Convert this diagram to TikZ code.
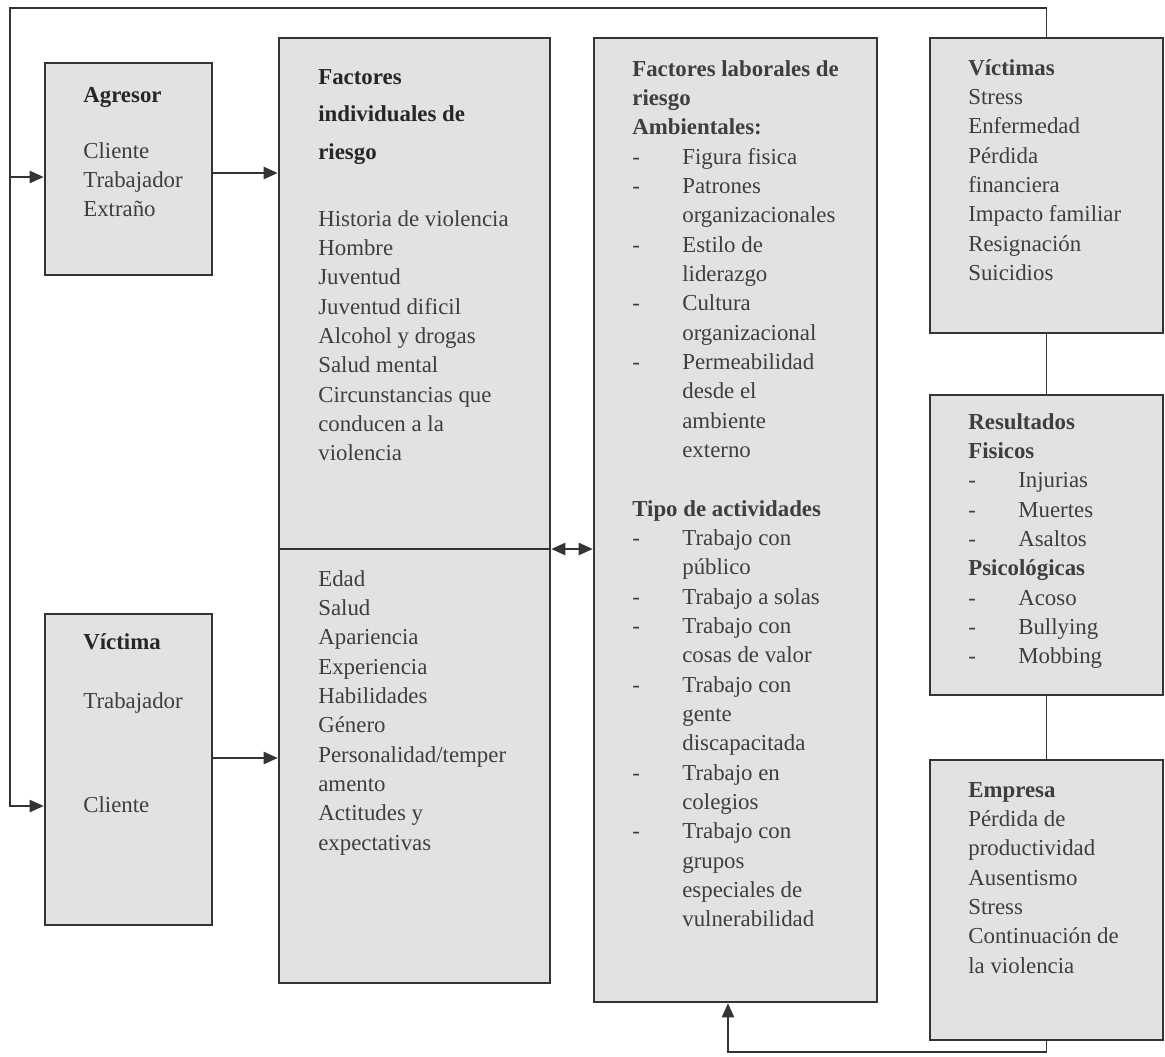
\documentclass[tikz,border=0pt]{standalone}
\usepackage{fontspec}
\setmainfont{Liberation Serif}
\usetikzlibrary{fit,arrows.meta}

\definecolor{relleno}{RGB}{226,226,228}
\definecolor{borde}{RGB}{52,52,52}
\definecolor{letra}{RGB}{62,62,62}

\newcommand{\guion}{\makebox[1cm][l]{-}}
\newcommand{\sangria}{\makebox[1cm]{}}
% lista cuya linea base es la de su primera fila
\newcommand{\lista}[1]{\begin{tabular}[t]{@{}l@{}}#1\end{tabular}}

\begin{document}
\begin{tikzpicture}[x=0.02cm,y=-0.02cm,
  caja/.style={draw=borde,fill=relleno,line width=1.5pt,inner sep=0pt},
  texto/.style={anchor=base west,inner sep=0pt,text=letra,
    font=\fontsize{13}{16.7}\selectfont},
  titulo/.style={texto,text=black!85,font=\fontsize{13}{16.7}\selectfont\bfseries},
  linea/.style={draw=borde,line width=1pt},
  flecha/.style={linea,-{Triangle[length=8pt,width=7pt]}},
  doble/.style={linea,{Triangle[length=8pt,width=7pt]}-{Triangle[length=8pt,width=7pt]}}]
\useasboundingbox (0,0) rectangle (1165,1056);

% cajas
\node[caja,fit={(45,63) (212,275)}] (agresor) {};
\node[caja,fit={(45,614) (212,925)}] (victima) {};
\node[caja,fit={(279,38) (550,983)}] (individuales) {};
\node[caja,fit={(594,38) (877,1002)}] (laborales) {};
\node[caja,fit={(930,38) (1163,333)}] (victimas) {};
\node[caja,fit={(930,395) (1163,695)}] (resultados) {};
\node[caja,fit={(930,760) (1163,1040)}] (empresa) {};
\draw[caja] (individuales.west |- 0,549) -- (individuales.east |- 0,549);

% textos
\node[titulo] (t-agresor) at (83,102) {Agresor};
\node[texto] (l-agresor) at (83,158) {\lista{Cliente\\Trabajador\\Extraño}};

\node[titulo,font=\fontsize{13}{21.6}\selectfont\bfseries] (t-indiv) at (318,84)
  {\lista{Factores\\individuales de\\riesgo}};
\node[texto] (l-indiv) at (318,226) {\lista{Historia de violencia\\Hombre\\Juventud\\
  Juventud dificil\\Alcohol y drogas\\Salud mental\\Circunstancias que\\
  conducen a la\\violencia}};
\node[texto] (l-indiv2) at (318,586) {\lista{Edad\\Salud\\Apariencia\\Experiencia\\
  Habilidades\\Género\\Personalidad/temper\\amento\\Actitudes y\\expectativas}};

\node[titulo] (t-victima) at (83,649) {Víctima};
\node[texto] (l-trab) at (83,708) {Trabajador};
\node[texto] (l-cliente) at (83,812) {Cliente};

\node[texto] (l-lab) at (632,76) {\lista{\textbf{Factores laborales de}\\\textbf{riesgo}\\
  \textbf{Ambientales:}\\
  \guion Figura fisica\\\guion Patrones\\\sangria organizacionales\\
  \guion Estilo de\\\sangria liderazgo\\\guion Cultura\\\sangria organizacional\\
  \guion Permeabilidad\\\sangria desde el\\\sangria ambiente\\\sangria externo\\[0.588cm]
  \textbf{Tipo de actividades}\\
  \guion Trabajo con\\\sangria público\\\guion Trabajo a solas\\
  \guion Trabajo con\\\sangria cosas de valor\\\guion Trabajo con\\\sangria gente\\
  \sangria discapacitada\\\guion Trabajo en\\\sangria colegios\\
  \guion Trabajo con\\\sangria grupos\\\sangria especiales de\\\sangria vulnerabilidad}};

\node[texto] (l-victimas) at (968,75) {\lista{\textbf{Víctimas}\\Stress\\Enfermedad\\Pérdida\\
  financiera\\Impacto familiar\\Resignación\\Suicidios}};

\node[texto] (l-result) at (968,429) {\lista{\textbf{Resultados}\\\textbf{Fisicos}\\
  \guion Injurias\\\guion Muertes\\\guion Asaltos\\\textbf{Psicológicas}\\
  \guion Acoso\\\guion Bullying\\\guion Mobbing}};

\node[texto] (l-empresa) at (968,797) {\lista{\textbf{Empresa}\\Pérdida de\\productividad\\
  Ausentismo\\Stress\\Continuación de\\la violencia}};

% conectores
\coordinate (arriba) at (10,8);
\coordinate (abajo) at (728,1052);
\draw[flecha] (victimas.north) |- (arriba) |- (victima.west |- 0,806);
\draw[flecha] (arriba |- 0,177) -- (agresor.west |- 0,177);
\draw[flecha] (agresor.east |- 0,173) -- (individuales.west |- 0,173);
\draw[flecha] (victima.east |- 0,758) -- (individuales.west |- 0,758);
\draw[doble] (individuales.east |- 0,549) -- (laborales.west |- 0,549);
\draw[linea] (victimas) -- (resultados);
\draw[linea] (resultados) -- (empresa);
\draw[flecha] (empresa.south) |- (abajo) -- (abajo |- laborales.south);
\end{tikzpicture}
\end{document}
